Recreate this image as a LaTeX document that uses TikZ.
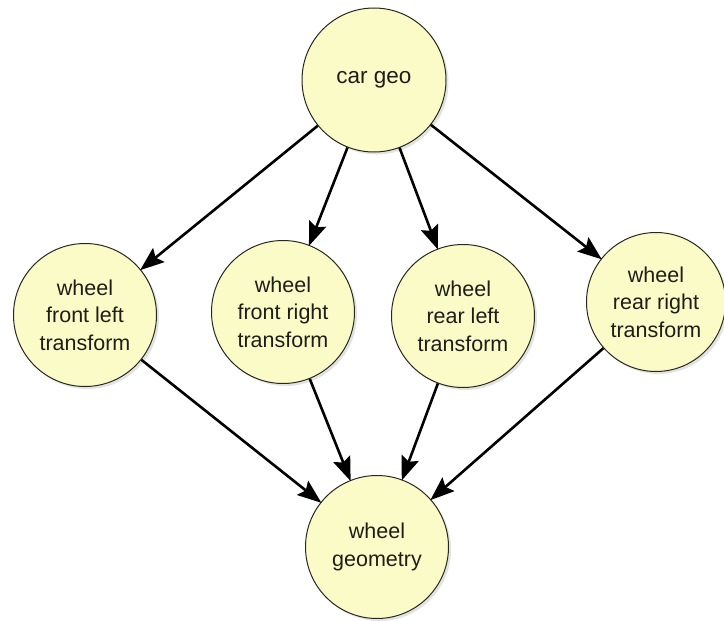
\documentclass[tikz,border=0pt]{standalone}
\usepackage{fontspec}
\setmainfont{Liberation Sans}
\usetikzlibrary{arrows.meta,shadows}
\definecolor{nodefill}{RGB}{251,251,200}
\definecolor{nodeline}{RGB}{40,40,30}
\definecolor{nodetext}{RGB}{30,30,25}
\tikzset{
  geonode/.style={circle, draw=nodeline, line width=1pt, fill=nodefill,
    minimum size=#1, inner sep=0pt, align=center, text=nodetext,
    font=\fontsize{21.5}{27.5}\selectfont,
    drop shadow={shadow xshift=2.5pt, shadow yshift=-2.5pt, opacity=0.22}},
  geonode/.default=143pt,
  link/.style={line width=2.6pt, -{Stealth[length=24pt,width=18pt,inset=4pt]}, shorten >=-1pt}
}
\begin{document}
\begin{tikzpicture}[x=1pt,y=-1pt]
\useasboundingbox (0,0) rectangle (724,621);
\node[geonode=144pt, font=\fontsize{22.5}{27.5}\selectfont] (car) at (374,80) {car geo};
\node[geonode] (fl) at (85,315) {wheel\\front left\\transform};
\node[geonode] (fr) at (283,312) {wheel\\front right\\transform};
\node[geonode] (rl) at (463,316) {wheel\\rear left\\transform};
\node[geonode=139pt] (rr) at (656,302) {wheel\\rear right\\transform};
\node[geonode] (wg) at (377,547) {wheel\\geometry};
\draw[link] (car) -- (fl);
\draw[link] (car) -- (fr);
\draw[link] (car) -- (rl);
\draw[link] (car) -- (rr);
\draw[link] (fl) -- (wg);
\draw[link] (fr) -- (wg);
\draw[link] (rl) -- (wg);
\draw[link] (rr) -- (wg);
\end{tikzpicture}
\end{document}
